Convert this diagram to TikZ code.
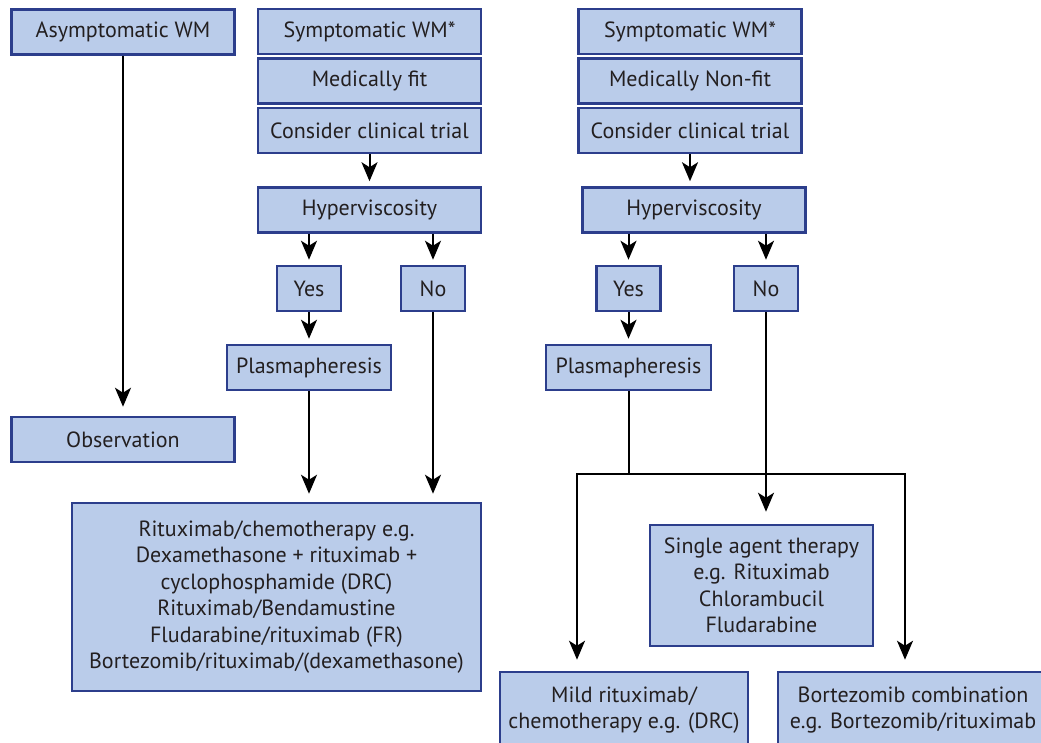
\documentclass[tikz,border=0pt]{standalone}
\usepackage{fontspec}
\setmainfont{PT Sans}
\usetikzlibrary{arrows.meta,positioning}
\definecolor{boxfill}{RGB}{186,204,234}
\definecolor{boxline}{RGB}{44,62,140}
\definecolor{boxtext}{RGB}{35,31,32}

\begin{document}
\begin{tikzpicture}[x=1pt,y=-1pt,>={Stealth[length=19pt,width=16pt,inset=5pt]},
  line width=2pt,node distance=49.5pt,
  box node/.style={rectangle,fill=boxfill,draw=boxline,line width=2.5pt,text=boxtext,
    font=\fontsize{22}{26.5}\selectfont,align=center,inner sep=0pt,minimum height=45pt},
  wide node/.style={box node,minimum width=223pt},
  small node/.style={box node,minimum width=64pt}]
  \path[use as bounding box,fill=white] (0,0) rectangle (1041,743);
  \clip (0,0) rectangle (1041,743);

  % medically fit side
  \node[wide node]  (1) at (123,32) {Asymptomatic WM};
  \node[wide node]  (2) at (369.5,31.5) {Symptomatic WM*};
  \node[wide node]  (3) [below of=2] {Medically fit};
  \node[wide node]  (4) [below of=3] {Consider clinical trial};
  \node[wide node]  (5) at (369.5,210) {Hyperviscosity};
  \node[small node] (6) at (309,288.5) {Yes};
  \node[small node] (7) at (433,288.5) {No};
  \node[box node,minimum width=164pt] (8) at (309,367.5) {Plasmapheresis};
  \node[wide node]  (9) at (123,439.5) {Observation};
  \node[box node,minimum width=409pt,minimum height=188pt] (10) at (276.5,597)
    {Rituximab/chemotherapy e.g.\\Dexamethasone + rituximab +\\cyclophosphamide (DRC)\\
     Rituximab/Bendamustine\\Fludarabine/rituximab (FR)\\Bortezomib/rituximab/(dexamethasone)};

  % non-fit side
  \node[wide node]  (11) at (690,31.5) {Symptomatic WM*};
  \node[wide node]  (12) [below of=11] {Medically Non-fit};
  \node[wide node]  (13) [below of=12] {Consider clinical trial};
  \node[wide node]  (14) at (694,210) {Hyperviscosity};
  \node[small node] (15) at (628.5,288.5) {Yes};
  \node[small node] (16) at (766,288.5) {No};
  \node[box node,minimum width=165pt] (17) at (628.5,367.5) {Plasmapheresis};
  \node[box node,minimum width=223pt,minimum height=121pt] (18) at (761.5,585.5)
    {Single agent therapy\\e.g. Rituximab\\Chlorambucil\\Fludarabine};
  \node[box node,minimum width=248pt,minimum height=76pt] (19) at (624,710)
    {Mild rituximab/\\chemotherapy e.g. (DRC)};
  \node[box node,minimum width=270pt,minimum height=76pt] (20) at (913,710)
    {Bortezomib combination\\e.g. Bortezomib/rituximab};
  \coordinate (j1) at (577,474);
  \coordinate (j2) at (905,474);

  \path[->,shorten >=5pt]
    (1) edge [shorten >=9pt] (9)
    (4) edge (5)
    (6|-5.south) edge (6)
    (7|-5.south) edge (7)
    (6) edge (8)
    (8) edge [shorten >=8pt] (8|-10.north)
    (7) edge [shorten >=8pt] (7|-10.north)
    (13) edge (13|-14.north)
    (15|-14.south) edge (15)
    (16|-14.south) edge (16)
    (15) edge (17)
    (16) edge [shorten >=12pt] (16|-18.north);
  \draw (17) -- (17|-j1);
  \draw[->,shorten >=11pt] (j2) -- (j1) -- (j1|-19.north);
  \draw[->,shorten >=11pt] (j1) -- (j2) -- (j2|-20.north);
\end{tikzpicture}
\end{document}
